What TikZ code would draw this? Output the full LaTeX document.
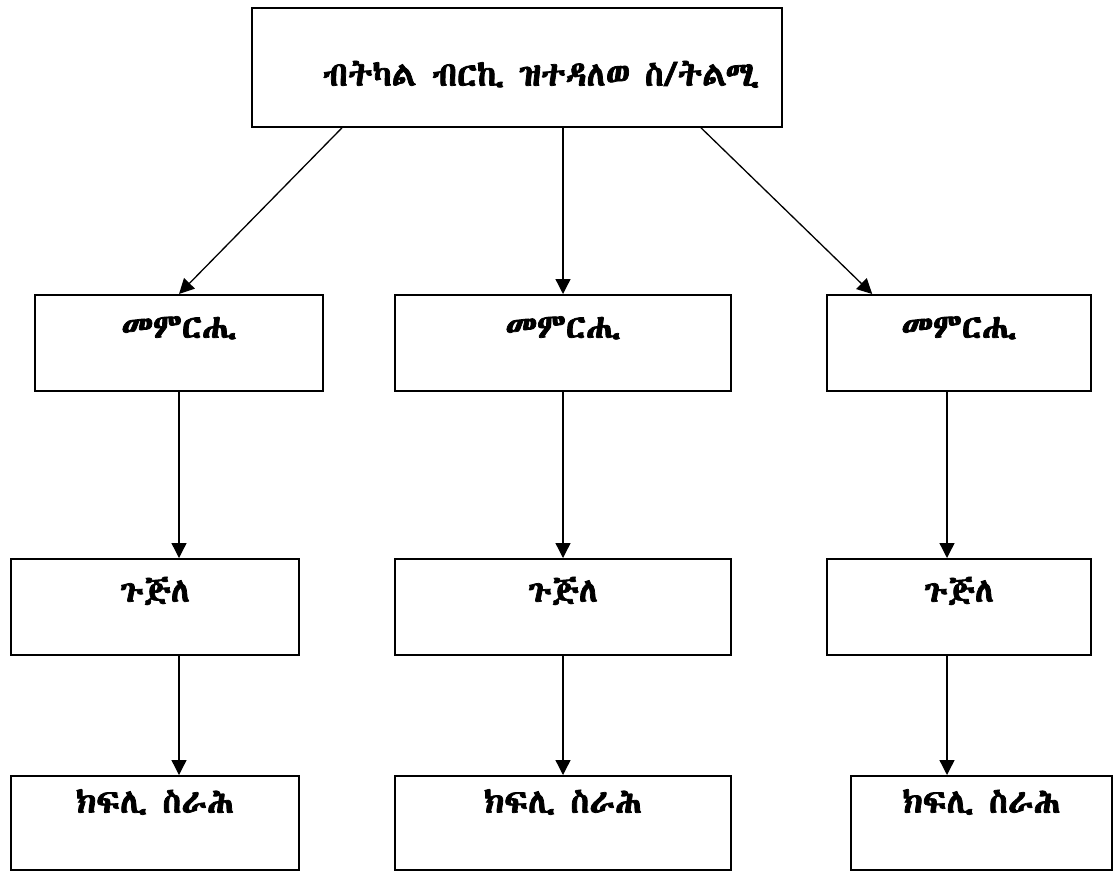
\documentclass[tikz,border=0pt]{standalone}
\usepackage{fontspec}
\usetikzlibrary{arrows.meta}
\IfFontExistsTF{Abyssinica SIL}{\newfontfamily\ethfont[FakeBold=2.2]{Abyssinica SIL}}{%
 \IfFontExistsTF{Noto Sans Ethiopic}{\newfontfamily\ethfont{Noto Sans Ethiopic}[BoldFont={* Bold}]}{%
  \IfFontExistsTF{FreeSerif}{\newfontfamily\ethfont{FreeSerif}}{\newfontfamily\ethfont{DejaVu Sans}}}}
\begin{document}
\begin{tikzpicture}[x=1pt,y=-1pt,
  box/.style={draw, line width=1.6pt, inner sep=0pt, anchor=north,
    minimum height=96pt, text height=43pt, text depth=53pt,
    font=\ethfont\bfseries\fontsize{34}{40}\selectfont},
  lowbox/.style={box, minimum height=94pt, text height=37pt, text depth=57pt},
  topbox/.style={box, minimum height=119pt, text height=78pt, text depth=41pt},
  arr/.style={line width=1.3pt, -{Triangle[length=15pt,width=15pt]}}]
\useasboundingbox (0,0) rectangle (1115,871);
\node[topbox, minimum width=530pt] (top) at (517,7) {\hspace*{48pt}ብትካል ብርኪ ዝተዳለወ ስ/ትልሚ};
\node[box, minimum width=288pt] (r2a) at (179,294) {መምርሒ};
\node[box, minimum width=336pt] (r2b) at (563,294) {መምርሒ};
\node[box, minimum width=264pt] (r2c) at (959,294) {መምርሒ};
\node[box, minimum width=288pt] (r3a) at (155,558) {ጉጅለ};
\node[box, minimum width=336pt] (r3b) at (563,558) {ጉጅለ};
\node[box, minimum width=264pt] (r3c) at (959,558) {ጉጅለ};
\node[lowbox, minimum width=288pt] (r4a) at (155,775) {ክፍሊ ስራሕ};
\node[lowbox, minimum width=336pt] (r4b) at (563,775) {ክፍሊ ስራሕ};
\node[lowbox, minimum width=261pt] (r4c) at (981.5,775) {ክፍሊ ስራሕ};
\coordinate (cx1) at (179,0);
\coordinate (cx3) at (947,0);
\draw[arr] ([xshift=91pt]top.south west) -- (r2a.north);
\draw[arr] (top.south -| r2b.north) -- (r2b.north);
\draw[arr] ([xshift=-82pt]top.south east) -- ([xshift=46pt]r2c.north west);
\draw[arr] (cx1 |- r2a.south) -- (cx1 |- r3a.north);
\draw[arr] (r2b.south) -- (r3b.north);
\draw[arr] (cx3 |- r2c.south) -- (cx3 |- r3c.north);
\draw[arr] (cx1 |- r3a.south) -- (cx1 |- r4a.north);
\draw[arr] (r3b.south) -- (r4b.north);
\draw[arr] (cx3 |- r3c.south) -- (cx3 |- r4c.north);
\end{tikzpicture}
\end{document}
